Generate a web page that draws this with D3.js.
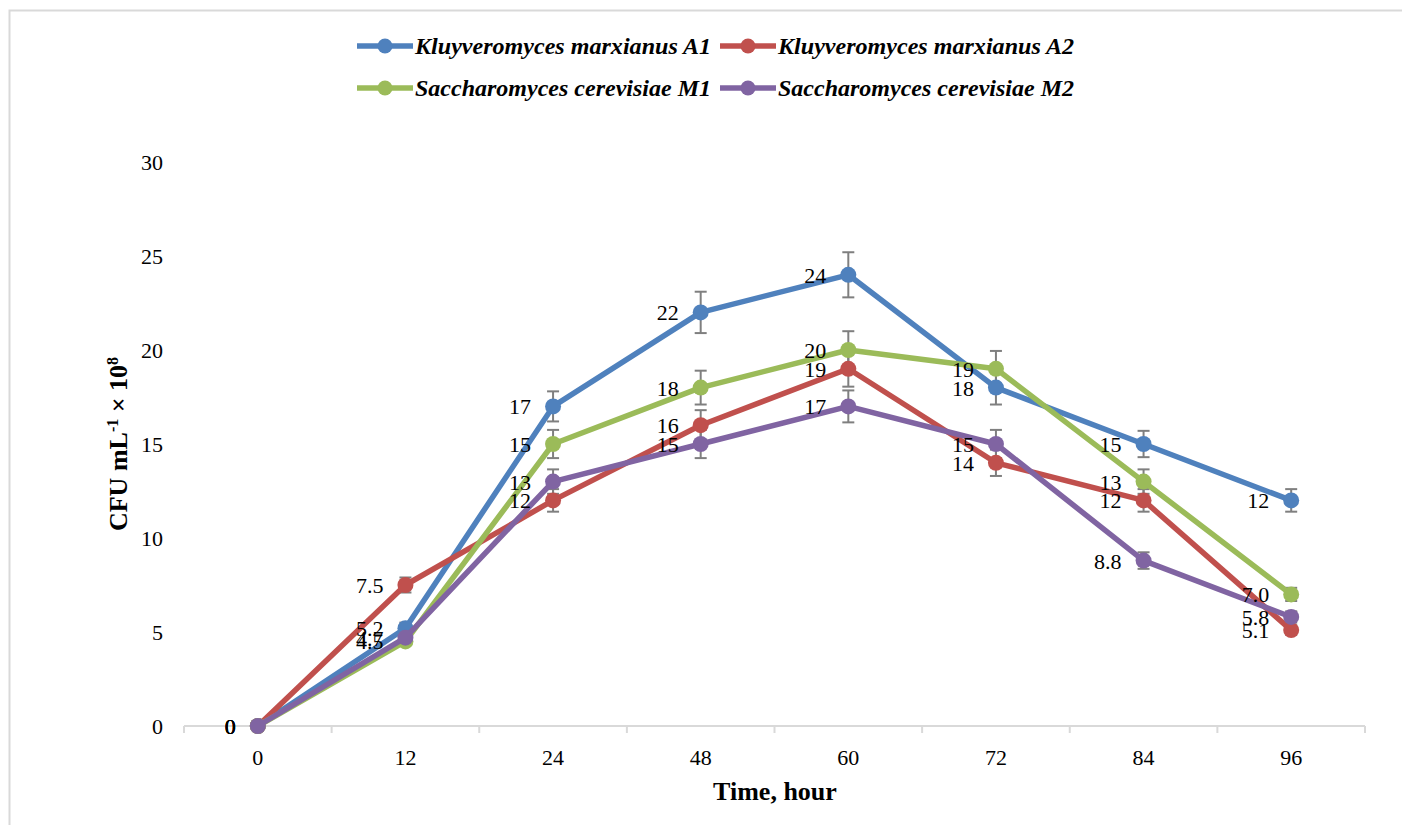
<!DOCTYPE html>
<html>
<head>
<meta charset="utf-8">
<script src="https://cdn.jsdelivr.net/npm/d3@7"></script>
<style>
  body { margin: 0; background: #fff; }
  svg text { font-family: "Liberation Serif", "Times New Roman", serif; }
</style>
</head>
<body>
<svg id="chart" width="1402" height="825"></svg>
<script>
// data
var hours = ['0', '12', '24', '48', '60', '72', '84', '96']
var seriesNames = ['Kluyveromyces marxianus A1', 'Kluyveromyces marxianus A2',
  'Saccharomyces cerevisiae M1', 'Saccharomyces cerevisiae M2']
var colors = ['#4f81bd', '#c0504d', '#9bbb59', '#8064a2']
var a1 = [0, 5.2, 17, 22, 24, 18, 15, 12]
var a2 = [0, 7.5, 12, 16, 19, 14, 12, 5.1]
var m1 = [0, 4.5, 15, 18, 20, 19, 13, 7.0]
var m2 = [0, 4.7, 13, 15, 17, 15, 8.8, 5.8]
var a1Err = [0, 0.3, 0.8, 1.1, 1.2, 0.9, 0.7, 0.6]
var a2Err = [0, 0.4, 0.6, 0.8, 0.95, 0.7, 0.6, 0.25]
var m1Err = [0, 0.2, 0.75, 0.9, 1.0, 0.95, 0.65, 0.35]
var m2Err = [0, 0.25, 0.65, 0.75, 0.85, 0.75, 0.44, 0.3]
var labels = [
  ['0', '5.2', '17', '22', '24', '18', '15', '12'],
  ['0', '7.5', '12', '16', '19', '14', '12', '5.1'],
  ['0', '4.5', '15', '18', '20', '19', '13', '7.0'],
  ['0', '4.7', '13', '15', '17', '15', '8.8', '5.8']
]
var yTicks = [0, 5, 10, 15, 20, 25, 30]

var series = [a1, a2, m1, m2].map((vals, i) => ({
  name: seriesNames[i], color: colors[i],
  values: vals.map((v, j) => ({h: hours[j], v: v, e: [a1Err, a2Err, m1Err, m2Err][i][j], label: labels[i][j]}))
}))

var svg = d3.select('#chart')

// outer frame (only top/left visible)
svg.append('rect')
  .attr('x', 9.5).attr('y', 10.5).attr('width', 1420).attr('height', 830)
  .attr('fill', 'none').attr('stroke', '#d9d9d9').attr('stroke-width', 2)

var x = d3.scaleBand().domain(hours).range([184, 1365])
var y = d3.scaleLinear().domain([0, 30]).range([726, 162])
var cx = h => x(h) + x.bandwidth() / 2

// x axis
var xAxis = svg.append('g').attr('transform', 'translate(0,726)')
xAxis.append('line').attr('x1', 184).attr('x2', 1365)
  .attr('stroke', '#d9d9d9').attr('stroke-width', 2)
var bounds = hours.map(h => x(h)).concat([x.range()[1]])
xAxis.selectAll('line.tick').data(bounds).join('line')
  .attr('class', 'tick')
  .attr('x1', d => d).attr('x2', d => d).attr('y1', 0).attr('y2', 7)
  .attr('stroke', '#d9d9d9').attr('stroke-width', 2)
xAxis.selectAll('text').data(hours).join('text')
  .attr('x', d => cx(d)).attr('y', 39)
  .attr('text-anchor', 'middle').attr('font-size', 22).text(d => d)

// y tick labels
svg.selectAll('text.ylab').data(yTicks).join('text')
  .attr('class', 'ylab')
  .attr('x', 163).attr('y', d => y(d) + 8)
  .attr('text-anchor', 'end').attr('font-size', 22).text(d => d)

// axis titles
svg.append('text').attr('x', 775).attr('y', 800)
  .attr('text-anchor', 'middle').attr('font-size', 26).attr('font-weight', 'bold')
  .text('Time, hour')
var yt = svg.append('text').attr('transform', 'translate(127,444) rotate(-90)')
  .attr('text-anchor', 'middle').attr('font-size', 26).attr('font-weight', 'bold')
yt.append('tspan').text('CFU mL')
yt.append('tspan').attr('dy', -9).attr('font-size', 16).text('-1')
yt.append('tspan').attr('dy', 9).text(' × 10')
yt.append('tspan').attr('dy', -9).attr('font-size', 16).text('8')

var line = d3.line().x(d => cx(d.h)).y(d => y(d.v))

// error bars
series.forEach(s => {
  var g = svg.append('g')
  s.values.filter(d => d.e > 0).forEach(d => {
    var px = cx(d.h)
    g.append('line').attr('x1', px).attr('x2', px)
      .attr('y1', y(d.v - d.e)).attr('y2', y(d.v + d.e))
      .attr('stroke', '#7f7f7f').attr('stroke-width', 2)
    ;[d.v - d.e, d.v + d.e].forEach(v => {
      g.append('line').attr('x1', px - 6).attr('x2', px + 6)
        .attr('y1', y(v)).attr('y2', y(v))
        .attr('stroke', '#7f7f7f').attr('stroke-width', 2)
    })
  })
})

// lines and markers
series.forEach(s => {
  svg.append('path').datum(s.values).attr('d', line)
    .attr('fill', 'none').attr('stroke', s.color).attr('stroke-width', 5.5)
    .attr('stroke-linejoin', 'round')
  svg.append('g').selectAll('circle').data(s.values).join('circle')
    .attr('cx', d => cx(d.h)).attr('cy', d => y(d.v)).attr('r', 8)
    .attr('fill', s.color)
})

// data labels, left of the points
series.forEach(s => {
  svg.append('g').selectAll('text').data(s.values).join('text')
    .attr('x', d => cx(d.h) - 22).attr('y', d => y(d.v) + 8)
    .attr('text-anchor', 'end').attr('font-size', 22).attr('fill', '#000')
    .text(d => d.label)
})

// legend
var legendPos = [[357, 46], [720, 46], [357, 88], [720, 88]]
series.forEach((s, i) => {
  var g = svg.append('g').attr('transform', 'translate(' + legendPos[i] + ')')
  g.append('line').attr('x1', 0).attr('x2', 56).attr('stroke', s.color).attr('stroke-width', 5.5)
  g.append('circle').attr('cx', 28).attr('r', 7.5).attr('fill', s.color)
  g.append('text').attr('x', 58).attr('y', 8).attr('font-size', 24)
    .attr('font-style', 'italic').attr('font-weight', 'bold')
    .attr('textLength', 296).attr('lengthAdjust', 'spacingAndGlyphs')
    .text(s.name)
})
</script>
</body>
</html>
